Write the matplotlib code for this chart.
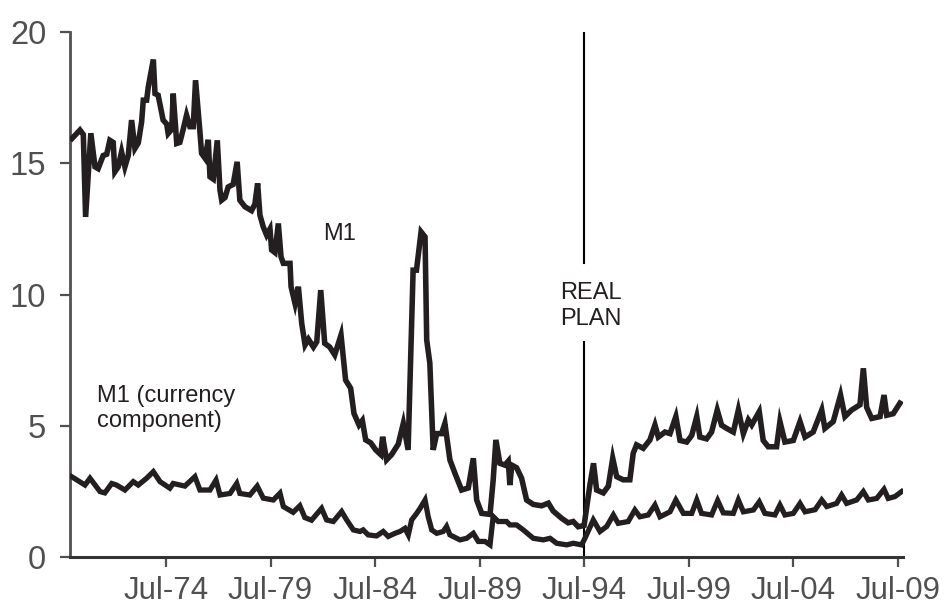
import matplotlib
matplotlib.use("Agg")
import matplotlib.pyplot as plt

# ---- data (decimal years) ----
m1_year = [1970.00, 1970.38, 1970.54, 1970.65, 1970.90, 1971.10, 1971.25, 1971.49, 1971.66, 1971.81,
           1971.97, 1972.05, 1972.21, 1972.37, 1972.53, 1972.69, 1972.85, 1973.01, 1973.17, 1973.33,
           1973.41, 1973.57, 1973.65, 1973.89, 1973.97, 1974.12, 1974.36, 1974.53, 1974.60, 1974.77,
           1974.84, 1975.01, 1975.16, 1975.32, 1975.48, 1975.64, 1975.80, 1975.91, 1976.12, 1976.20,
           1976.36, 1976.52, 1976.60, 1976.76, 1976.95, 1977.08, 1977.16, 1977.32, 1977.47, 1977.71,
           1977.90, 1978.03, 1978.27, 1978.59, 1978.75, 1978.88, 1978.99, 1979.15, 1979.31, 1979.47,
           1979.55, 1979.71, 1979.87, 1980.00, 1980.11, 1980.43, 1980.48, 1980.67, 1980.83, 1980.99,
           1981.15, 1981.31, 1981.55, 1981.71, 1981.90, 1982.09, 1982.33, 1982.57, 1982.87, 1983.09,
           1983.33, 1983.49, 1983.73, 1983.89, 1984.05, 1984.29, 1984.53, 1984.77, 1984.86, 1985.05,
           1985.29, 1985.61, 1985.85, 1986.08, 1986.32, 1986.48, 1986.70, 1986.89, 1986.97, 1987.12,
           1987.28, 1987.45, 1987.68, 1987.84, 1988.08, 1988.32, 1988.64, 1988.96, 1989.20, 1989.36,
           1989.60, 1990.00, 1990.15, 1990.28, 1990.47, 1990.71, 1990.87, 1990.95, 1991.04, 1991.27,
           1991.51, 1991.75, 1992.07, 1992.47, 1992.79, 1993.02, 1993.43, 1993.74, 1993.98, 1994.22,
           1994.50, 1994.78, 1994.95, 1995.10, 1995.42, 1995.66, 1995.87, 1996.06, 1996.37, 1996.69,
           1996.85, 1997.01, 1997.33, 1997.65, 1997.89, 1998.05, 1998.37, 1998.61, 1998.89, 1999.09,
           1999.41, 1999.65, 1999.89, 2000.04, 2000.36, 2000.60, 2000.87, 2001.08, 2001.32, 2001.64,
           2001.88, 2002.12, 2002.36, 2002.52, 2002.88, 2003.07, 2003.31, 2003.71, 2003.87, 2004.11,
           2004.51, 2004.83, 2005.07, 2005.46, 2005.87, 2006.02, 2006.42, 2006.77, 2006.98, 2007.30,
           2007.70, 2007.86, 2008.02, 2008.26, 2008.66, 2008.85, 2008.98, 2009.29, 2009.61]
m1_value = [15.95, 16.27, 16.10, 12.96, 16.15, 14.87, 14.80, 15.30, 15.35, 15.88,
            15.80, 14.68, 14.87, 15.44, 14.87, 15.30, 16.65, 15.57, 15.78, 16.58,
            17.41, 17.41, 17.92, 18.96, 17.66, 17.60, 16.65, 16.50, 16.14, 16.30,
            17.66, 15.76, 15.80, 16.30, 16.84, 16.40, 16.40, 18.17, 16.20, 15.38,
            15.20, 15.90, 14.49, 14.40, 15.88, 13.98, 13.60, 13.70, 14.10, 14.20,
            15.06, 13.60, 13.35, 13.20, 13.45, 14.24, 13.03, 12.58, 12.27, 12.50,
            11.70, 11.60, 12.71, 11.44, 11.19, 11.19, 10.30, 9.66, 10.30, 8.90,
            8.08, 8.30, 8.00, 8.20, 10.17, 8.14, 8.00, 7.70, 8.46, 6.74,
            6.43, 5.47, 5.03, 5.20, 4.46, 4.35, 4.08, 3.90, 4.58, 3.70,
            3.90, 4.30, 5.09, 4.08, 10.93, 10.93, 12.39, 12.20, 8.27, 7.38,
            4.08, 4.70, 4.70, 5.09, 3.70, 3.19, 2.55, 2.63, 3.76, 2.17,
            1.66, 1.62, 2.93, 4.46, 3.57, 3.50, 3.65, 2.74, 3.50, 3.40,
            3.00, 2.17, 2.00, 1.95, 2.05, 1.75, 1.47, 1.30, 1.35, 1.15,
            1.20, 2.75, 3.57, 2.55, 2.44, 2.70, 3.76, 3.06, 2.94, 2.94,
            3.95, 4.27, 4.14, 4.46, 5.03, 4.57, 4.76, 4.70, 5.35, 4.44,
            4.38, 4.63, 5.35, 4.57, 4.50, 4.76, 5.60, 5.02, 4.90, 4.76,
            5.60, 4.70, 5.22, 5.03, 5.54, 4.44, 4.20, 4.20, 5.16, 4.38,
            4.44, 5.16, 4.57, 4.76, 5.60, 4.90, 5.16, 6.17, 5.35, 5.60,
            5.80, 7.19, 5.70, 5.28, 5.35, 6.17, 5.40, 5.46, 5.86]

cur_year = [1969.98, 1970.62, 1970.86, 1971.34, 1971.57, 1971.90, 1972.13, 1972.53, 1972.93, 1973.17,
            1973.57, 1973.89, 1974.21, 1974.68, 1974.84, 1975.40, 1975.88, 1976.12, 1976.60, 1976.89,
            1977.08, 1977.56, 1977.88, 1978.03, 1978.51, 1978.86, 1979.15, 1979.63, 1979.95, 1980.11,
            1980.58, 1980.90, 1981.14, 1981.46, 1981.94, 1982.18, 1982.50, 1982.90, 1983.14, 1983.46,
            1983.78, 1983.93, 1984.17, 1984.57, 1984.89, 1985.13, 1985.45, 1985.69, 1985.93, 1986.09,
            1986.25, 1986.49, 1986.65, 1986.89, 1987.04, 1987.21, 1987.45, 1987.76, 1987.92, 1988.08,
            1988.56, 1988.88, 1989.20, 1989.44, 1989.76, 1990.00, 1990.15, 1990.39, 1990.79, 1990.95,
            1991.27, 1991.59, 1992.07, 1992.55, 1992.87, 1993.19, 1993.67, 1993.98, 1994.38, 1994.54,
            1994.94, 1995.26, 1995.58, 1995.90, 1996.13, 1996.61, 1996.93, 1997.17, 1997.57, 1997.89,
            1998.13, 1998.61, 1998.89, 1999.25, 1999.65, 1999.89, 2000.12, 2000.60, 2000.89, 2001.16,
            2001.64, 2001.88, 2002.12, 2002.60, 2002.88, 2003.15, 2003.63, 2003.87, 2004.11, 2004.51,
            2004.83, 2005.07, 2005.55, 2005.87, 2006.11, 2006.58, 2006.82, 2007.06, 2007.54, 2007.86,
            2008.10, 2008.50, 2008.85, 2009.05, 2009.37, 2009.69]
cur_value = [3.06, 2.74, 3.00, 2.49, 2.44, 2.80, 2.74, 2.55, 2.87, 2.74,
             3.00, 3.25, 2.87, 2.62, 2.80, 2.70, 3.06, 2.55, 2.55, 2.93,
             2.36, 2.42, 2.80, 2.42, 2.36, 2.70, 2.24, 2.17, 2.43, 1.92,
             1.70, 1.95, 1.50, 1.40, 1.85, 1.41, 1.35, 1.73, 1.41, 1.03,
             0.97, 1.03, 0.84, 0.80, 0.97, 0.78, 0.90, 0.97, 1.09, 0.84,
             1.41, 1.66, 1.85, 2.17, 1.54, 1.03, 0.90, 0.97, 1.16, 0.84,
             0.65, 0.71, 0.90, 0.59, 0.59, 0.46, 1.54, 1.35, 1.35, 1.22,
             1.22, 1.03, 0.71, 0.65, 0.71, 0.52, 0.46, 0.52, 0.46, 0.71,
             1.41, 0.97, 1.16, 1.60, 1.28, 1.35, 1.79, 1.53, 1.60, 1.98,
             1.53, 1.72, 2.17, 1.66, 1.66, 2.17, 1.66, 1.60, 2.15, 1.68,
             1.66, 2.17, 1.72, 1.79, 2.10, 1.66, 1.60, 1.98, 1.60, 1.66,
             2.04, 1.72, 1.80, 2.17, 1.92, 2.04, 2.36, 2.04, 2.17, 2.49,
             2.17, 2.23, 2.58, 2.23, 2.30, 2.49]

tick_years = [1974.5, 1979.5, 1984.5, 1989.5, 1994.5, 1999.5, 2004.5, 2009.5]
tick_labels = ["Jul-74", "Jul-79", "Jul-84", "Jul-89", "Jul-94", "Jul-99", "Jul-04", "Jul-09"]
y_ticks = [0, 5, 10, 15, 20]
real_plan_year = 1994.5

# ---- styling ----
plt.rcParams['font.family'] = ['Liberation Sans', 'DejaVu Sans']
ink = '#231f20'
grey = '#505050'

fig = plt.figure(figsize=(9.45, 6.08), dpi=100)
ax = fig.add_axes([0.074, 0.084, 0.8816, 0.863])

ax.plot(m1_year, m1_value, color=ink, lw=4.0, solid_joinstyle='miter', zorder=3)
ax.plot(cur_year, cur_value, color=ink, lw=3.8, solid_joinstyle='miter', zorder=3)

# REAL PLAN vertical marker with a gap for its label
ax.axvline(real_plan_year, ymin=0.56, ymax=1.0, color='black', lw=1.5, zorder=2)
ax.axvline(real_plan_year, ymin=0.0, ymax=0.41, color='black', lw=1.5, zorder=2)

ax.set_xlim(1969.9, 2009.76)
ax.set_ylim(0, 20)
ax.set_xticks(tick_years)
ax.set_xticklabels(tick_labels)
ax.set_yticks(y_ticks)

for s in ['top', 'right']:
    ax.spines[s].set_visible(False)
ax.spines['left'].set_color(grey)
ax.spines['left'].set_linewidth(2.0)
ax.spines['bottom'].set_color('#333333')
ax.spines['bottom'].set_linewidth(2.2)

ax.tick_params(axis='y', direction='out', length=7, width=1.6, color=grey,
               labelsize=23.5, labelcolor=grey, pad=10)
ax.tick_params(axis='x', direction='out', length=7, width=1.6, color=grey,
               labelsize=22.5, labelcolor=grey, pad=7)

# annotations
fs = 17
ax.text(1982.0, 12.08, "M1", fontsize=fs, color=ink, ha='left', va='baseline')
ax.text(1993.35, 9.83, "REAL", fontsize=fs, color=ink, ha='left', va='baseline')
ax.text(1993.35, 8.84, "PLAN", fontsize=fs, color=ink, ha='left', va='baseline')
ax.text(1971.19, 5.92, "M1 (currency", fontsize=fs, color=ink, ha='left', va='baseline')
ax.text(1971.19, 4.96, "component)", fontsize=fs, color=ink, ha='left', va='baseline')

fig.savefig("out.png", dpi=100)
